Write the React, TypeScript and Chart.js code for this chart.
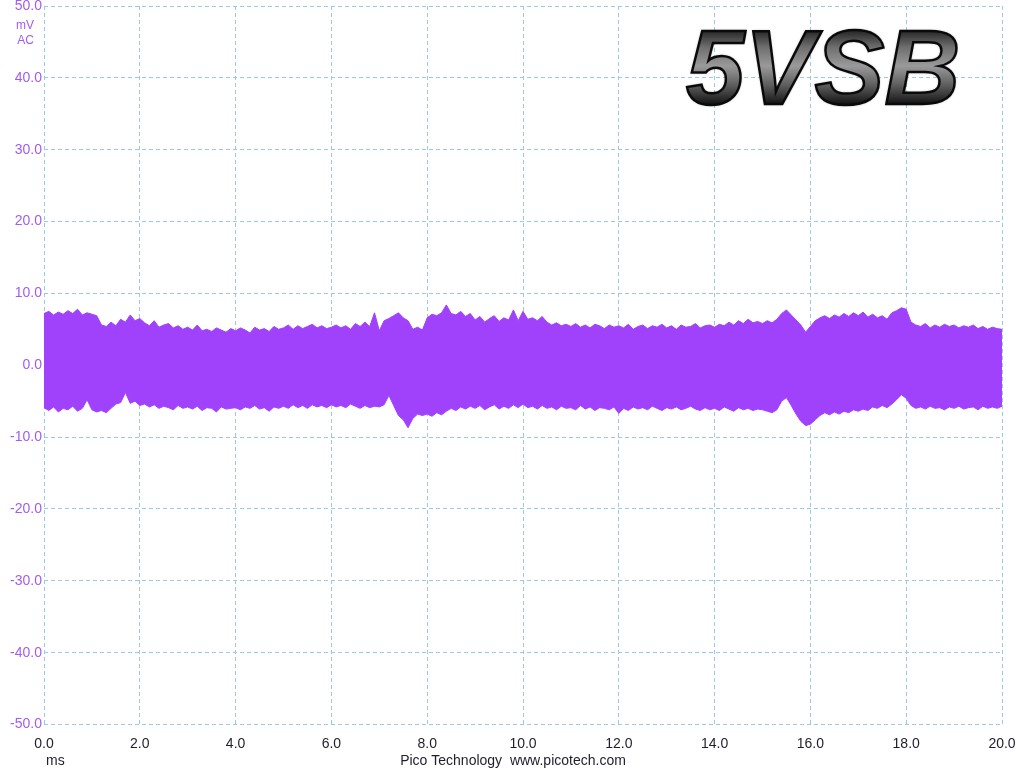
import React, { useEffect, useRef } from "react";
import { Chart, registerables } from "chart.js";

Chart.register(...registerables);

// Sample spacing of the envelope readings (ms)
const SAMPLE_STEP_MS = 0.1;

// Upper envelope of the 5VSB ripple (mV), one reading per 0.1 ms, 0.0 .. 20.0 ms
const UPPER_MV: number[] = [
  7.2, 7.5, 7.0, 7.4, 7.1, 7.6, 7.2, 7.8, 7.0, 7.3,
  7.1, 6.9, 5.6, 5.4, 6.0, 5.5, 6.4, 6.0, 7.0, 6.2,
  6.5, 5.9, 5.5, 6.2, 5.3, 5.6, 5.8, 5.2, 5.5, 5.0,
  5.3, 4.9, 5.6, 4.8, 5.0, 4.7, 5.2, 4.9, 4.6, 5.1,
  4.8, 5.2, 4.9, 4.5, 5.3, 4.9, 5.1, 4.7, 5.4, 5.0,
  5.2, 5.6, 5.0, 5.5, 5.1, 5.4, 5.7, 5.2, 5.5, 5.1,
  5.3, 5.6, 5.2, 5.5, 5.0, 5.8, 5.4, 6.0, 5.4, 7.3,
  4.8, 6.2, 6.5, 6.9, 7.3, 6.6, 6.2, 5.0, 5.3, 4.9,
  6.6, 7.1, 6.9, 7.3, 8.4, 7.2, 7.0, 7.5, 6.8, 7.2,
  6.3, 6.8, 6.0, 6.5, 6.9, 6.1, 6.6, 6.3, 7.7, 6.2,
  7.5, 6.4, 6.6, 6.2, 6.8, 6.0, 5.6, 5.9, 5.5, 5.7,
  5.4, 5.8, 5.3, 5.6, 5.2, 5.7, 5.5, 5.1, 5.6, 5.3,
  5.5, 5.2, 5.7, 5.0, 5.4, 5.6, 5.1, 5.5, 5.3, 5.7,
  5.2, 5.5, 5.0, 5.6, 5.3, 5.4, 5.8, 5.2, 5.5, 5.6,
  5.3, 5.7, 5.5, 6.0, 5.6, 6.2, 5.8, 6.4, 5.9, 6.1,
  5.8, 6.2, 5.9, 6.4, 7.2, 7.7, 7.0, 6.3, 5.6, 4.6,
  5.4, 6.2, 6.6, 6.9, 6.5, 7.0, 6.7, 7.2, 6.8, 7.3,
  6.9, 7.4, 6.7, 7.1, 6.6, 6.9, 6.4, 7.3, 7.6, 8.0,
  7.8, 6.0, 5.6, 5.4, 5.8, 5.2, 5.6, 5.3, 5.7, 5.4,
  5.6, 5.2, 5.5, 5.3, 5.6, 5.1, 5.4, 5.0, 5.3, 5.1,
  5.0,
];

// Lower envelope of the ripple (mV), same sampling
const LOWER_MV: number[] = [
  -5.9, -6.3, -5.8, -6.5, -6.0, -6.2, -5.7, -6.4, -6.0, -4.8,
  -6.2, -6.5, -6.3, -6.6, -6.0, -5.4, -5.2, -3.8, -5.3, -5.0,
  -5.6, -5.4, -5.8, -5.5, -6.0, -5.7, -5.9, -6.2, -5.6, -6.0,
  -5.8, -6.1, -5.7, -6.3, -5.9, -6.0, -6.5, -5.8, -6.1, -6.0,
  -5.9, -6.2, -5.8, -6.0, -5.6, -6.1, -5.9, -6.4, -5.8, -6.0,
  -5.7, -6.0, -5.5, -5.9, -5.6, -6.0, -5.5, -5.8, -5.6, -5.9,
  -5.5, -5.8, -5.6, -5.9, -5.4, -5.7, -6.0, -5.6, -5.9, -5.7,
  -5.8, -5.5, -4.2, -5.6, -7.0, -7.6, -8.7, -7.4, -6.8, -7.0,
  -6.8, -7.1, -6.6, -6.9, -6.4, -6.0, -6.3, -5.8, -6.1, -5.7,
  -6.0, -5.6, -6.2, -5.8, -5.5, -6.1, -5.7, -6.0, -5.5, -5.9,
  -5.4, -5.9, -5.7, -6.1, -5.6, -6.0, -5.8, -6.2, -5.7, -6.0,
  -5.9, -6.2, -5.6, -6.1, -5.8, -6.3, -5.9, -6.0, -6.2, -5.8,
  -6.7, -6.0, -6.3, -5.8, -6.1, -5.9, -6.2, -5.7, -6.0, -6.3,
  -5.9, -6.1, -5.8, -6.2, -6.0, -5.7, -6.1, -6.3, -5.9, -6.2,
  -6.0, -6.3, -5.8, -6.1, -6.4, -5.9, -6.2, -6.0, -6.3, -6.1,
  -6.2, -6.4, -6.6, -6.2, -5.0, -4.5, -5.6, -6.8, -7.8, -8.4,
  -8.2, -7.6, -7.0, -6.6, -6.9, -6.5, -6.8, -6.4, -6.6, -6.2,
  -6.4, -6.1, -6.3, -5.8, -6.0, -5.6, -5.9, -5.4, -4.8, -4.1,
  -4.6, -5.6, -6.0, -5.8, -6.1, -5.7, -6.0, -5.9, -6.2, -5.8,
  -6.0, -5.7, -6.1, -5.9, -5.8, -6.2, -5.7, -6.0, -5.8, -6.0,
  -5.7,
];

const X_MIN = 0;
const X_MAX = 20;
const X_STEP = 2;
const Y_MIN = -50;
const Y_MAX = 50;
const Y_STEP = 10;

const Y_UNIT_LINES = ["mV", "AC"];
const X_UNIT = "ms";
const FOOTER = "Pico Technology  www.picotech.com";
const TITLE = "5VSB";

const TRACE = "rgb(160, 66, 252)";
const Y_LABEL = "#a35cf0";
const X_LABEL = "#1e1e2c";
const GRID = "#9ec9e2";
const FONT = "'Liberation Sans', Arial, sans-serif";

const overlay = {
  id: "overlay",
  afterDraw(chart: any) {
    const ctx = chart.ctx as CanvasRenderingContext2D;
    const area = chart.chartArea;
    ctx.save();
    // unit labels on the y axis
    ctx.font = `12px ${FONT}`;
    ctx.fillStyle = Y_LABEL;
    ctx.textAlign = "right";
    ctx.textBaseline = "middle";
    Y_UNIT_LINES.forEach((t, i) => ctx.fillText(t, area.left - 10, area.top + 20 + i * 15));
    // x unit + footer
    ctx.font = `14px ${FONT}`;
    ctx.fillStyle = X_LABEL;
    ctx.textAlign = "left";
    ctx.fillText(X_UNIT, area.left + 2, 761);
    ctx.textAlign = "center";
    ctx.fillText(FOOTER, 513, 761);
    // big title
    ctx.font = `italic bold 105px ${FONT}`;
    ctx.textAlign = "left";
    ctx.textBaseline = "alphabetic";
    const x0 = 686;
    const yb = 104;
    const g = ctx.createLinearGradient(0, 28, 0, 104);
    g.addColorStop(0, "#1a1a1a");
    g.addColorStop(0.25, "#6e6e6e");
    g.addColorStop(0.5, "#9a9a9a");
    g.addColorStop(0.75, "#5e5e5e");
    g.addColorStop(1, "#141414");
    ctx.shadowColor = "rgba(0,0,0,0.6)";
    ctx.shadowBlur = 3;
    ctx.fillStyle = "#111";
    ctx.fillText(TITLE, x0, yb);
    ctx.shadowBlur = 0;
    ctx.fillStyle = g;
    ctx.fillText(TITLE, x0, yb);
    ctx.strokeStyle = "#0a0a0a";
    ctx.lineWidth = 2.5;
    ctx.strokeText(TITLE, x0, yb);
    ctx.restore();
  },
};

const noOverhang = (s: any) => {
  s.paddingTop = 0;
  s.paddingBottom = 0;
  s.paddingLeft = 0;
  s.paddingRight = 0;
};

export default function App() {
  const ref = useRef<HTMLCanvasElement>(null);

  useEffect(() => {
    if (!ref.current) return;
    const upper = UPPER_MV.map((v, i) => ({ x: i * SAMPLE_STEP_MS, y: v }));
    const lower = LOWER_MV.map((v, i) => ({ x: i * SAMPLE_STEP_MS, y: v }));
    const chart = new Chart(ref.current, {
      type: "line",
      data: {
        datasets: [
          {
            data: upper,
            borderColor: TRACE,
            backgroundColor: TRACE,
            borderWidth: 1,
            pointRadius: 0,
            fill: "+1",
            tension: 0,
          },
          {
            data: lower,
            borderColor: TRACE,
            backgroundColor: TRACE,
            borderWidth: 1,
            pointRadius: 0,
            fill: false,
            tension: 0,
          },
        ],
      },
      options: {
        animation: false,
        responsive: true,
        maintainAspectRatio: false,
        layout: { padding: { top: 6, right: 22, left: 0, bottom: 0 } },
        plugins: { legend: { display: false }, tooltip: { enabled: false } },
        scales: {
          x: {
            type: "linear",
            min: X_MIN,
            max: X_MAX,
            grid: { color: GRID, drawTicks: false, lineWidth: 1 },
            border: { display: false, dash: [4, 3] },
            ticks: {
              stepSize: X_STEP,
              color: X_LABEL,
              font: { family: FONT, size: 14 },
              padding: 11,
              maxRotation: 0,
              callback: (v: any) => Number(v).toFixed(1),
            },
            afterFit: (s: any) => {
              s.height = 43.5;
              noOverhang(s);
            },
          },
          y: {
            type: "linear",
            min: Y_MIN,
            max: Y_MAX,
            grid: { color: GRID, drawTicks: false, lineWidth: 1 },
            border: { display: false, dash: [4, 3] },
            ticks: {
              stepSize: Y_STEP,
              color: Y_LABEL,
              font: { family: FONT, size: 14 },
              padding: 2,
              callback: (v: any) => Number(v).toFixed(1),
            },
            afterFit: (s: any) => {
              s.width = 44;
              noOverhang(s);
            },
          },
        },
      } as any,
      plugins: [overlay],
    });
    return () => chart.destroy();
  }, []);

  return (
    <div style={{ position: "fixed", left: 0, top: 0, width: 1024, height: 768, background: "#fff" }}>
      <canvas ref={ref} />
    </div>
  );
}
